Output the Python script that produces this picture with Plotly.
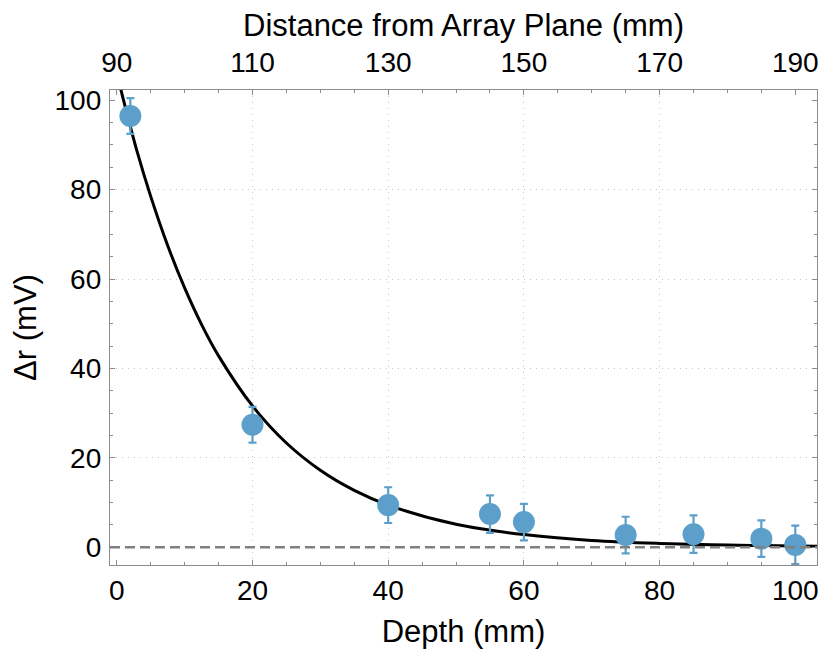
import plotly.graph_objects as go

# measured points (depth in mm, delta r in mV)
depth = [2, 20, 40, 55, 60, 75, 85, 95, 100]
delta_r = [96.5, 27.4, 9.4, 7.4, 5.6, 2.7, 2.9, 1.9, 0.5]
err = [4.0, 4.0, 4.0, 4.2, 4.1, 4.1, 4.2, 4.1, 4.3]

# fit curve
fit_depth = [0, 1, 3, 5, 7.5, 10, 12.5, 15, 20, 25, 30, 35, 40, 50, 60, 70, 80, 90, 100, 104]
fit_val = [106, 100, 88.5, 78.5, 67.5, 58.0, 49.8, 42.8, 31.6, 23.3, 17.2, 12.7, 9.4, 5.1, 2.8, 1.5, 0.83, 0.45, 0.25, 0.2]

grid_x = [20, 40, 60, 80]
grid_y = [20, 40, 60, 80]
bottom_ticks = [0, 20, 40, 60, 80, 100]
top_ticks = [90, 110, 130, 150, 170, 190]
y_ticks = [0, 20, 40, 60, 80, 100]

blue = "#5b9fca"
frame = "#8c8c8c"
font = "Liberation Sans, Arial, sans-serif"

x_rng = [-1.0, 103.2]
y_rng = [-4.0, 102.3]

fig = go.Figure()

fig.add_trace(go.Scatter(
    x=fit_depth, y=fit_val, mode="lines", line_shape="spline",
    line=dict(color="black", width=3), showlegend=False, hoverinfo="skip"
))

fig.add_trace(go.Scatter(
    x=depth, y=delta_r, mode="markers",
    marker=dict(color=blue, size=22),
    error_y=dict(type="data", array=err, color=blue, thickness=2.2, width=4),
    showlegend=False
))

fig.add_hline(y=0, line=dict(color="#808080", width=2.5, dash="10px,5px"))

tick_font = dict(family=font, size=28, color="black")
title_font = dict(family=font, size=31, color="black")

# page body has an 8px margin, so the figure is a bit smaller than the window
fig.update_layout(
    width=814, height=642,
    margin=dict(l=102, r=5, t=82, b=85, autoexpand=False),
    plot_bgcolor="white", paper_bgcolor="white",
    font=dict(family=font, color="black"),
    xaxis=dict(
        range=x_rng, tickvals=bottom_ticks, showgrid=False, zeroline=False, automargin=False,
        showline=True, linecolor=frame, linewidth=1.3, mirror=True,
        ticks="inside", ticklen=5, tickcolor=frame, tickwidth=1,
        minor=dict(ticks="inside", ticklen=3, dtick=5, tick0=0, tickcolor=frame, showgrid=False),
        tickfont=tick_font,
        title=dict(text="Depth (mm)", font=title_font, standoff=15),
    ),
    xaxis2=dict(
        range=[x_rng[0] + 90, x_rng[1] + 90], overlaying="x", side="top", anchor="y",
        tickvals=top_ticks, showgrid=False, zeroline=False, showline=False, automargin=False,
        ticks="inside", ticklen=5, tickcolor=frame, tickwidth=1,
        minor=dict(ticks="inside", ticklen=3, dtick=5, tick0=90, tickcolor=frame, showgrid=False),
        tickfont=tick_font, ticklabelstandoff=11,
        title=dict(text="Distance from Array Plane (mm)", font=title_font, standoff=7),
    ),
    xaxis3=dict(
        range=x_rng, overlaying="x", anchor="y", tickvals=grid_x, automargin=False,
        showgrid=True, gridcolor="#c8c8c8", gridwidth=1, griddash="1px,5px",
        showticklabels=False, ticks="", showline=False, zeroline=False,
    ),
    yaxis=dict(
        range=y_rng, tickvals=y_ticks, showgrid=False, zeroline=False, automargin=False,
        showline=True, linecolor=frame, linewidth=1.3, mirror="ticks",
        ticks="inside", ticklen=5, tickcolor=frame, tickwidth=1,
        minor=dict(ticks="inside", ticklen=3, dtick=5, tick0=0, tickcolor=frame, showgrid=False),
        tickfont=tick_font, ticklabelstandoff=2,
        title=dict(text="Δr (mV)", font=title_font, standoff=10),
    ),
    yaxis3=dict(
        range=y_rng, overlaying="y", anchor="x", tickvals=grid_y, automargin=False,
        showgrid=True, gridcolor="#c8c8c8", gridwidth=1, griddash="1px,5px",
        showticklabels=False, ticks="", showline=False, zeroline=False,
    ),
)

fig.add_trace(go.Scatter(x=[None], y=[None], xaxis="x2", yaxis="y", showlegend=False, hoverinfo="skip"))
fig.add_trace(go.Scatter(x=[None], y=[None], xaxis="x3", yaxis="y", showlegend=False, hoverinfo="skip"))
fig.add_trace(go.Scatter(x=[None], y=[None], xaxis="x", yaxis="y3", showlegend=False, hoverinfo="skip"))

fig.write_html("out.html")
